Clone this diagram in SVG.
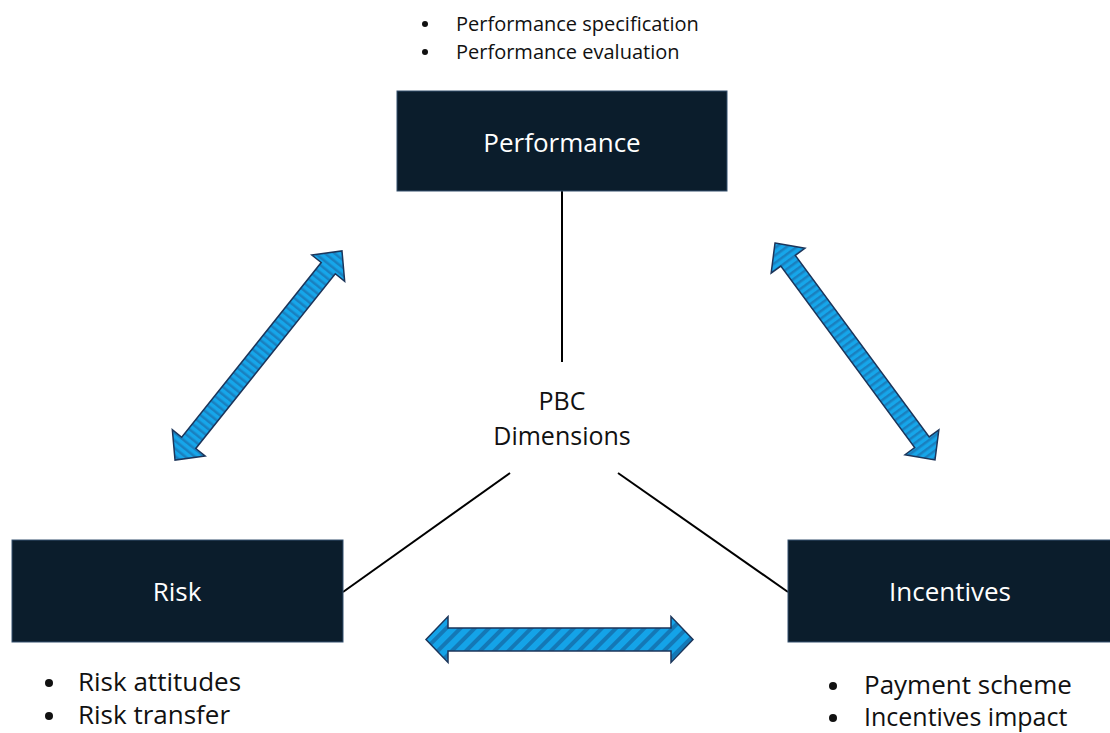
<svg xmlns="http://www.w3.org/2000/svg" width="1110" height="733" viewBox="0 0 1110 733">
  <style>
    .box { fill: #0b1d2c; stroke: #34506e; stroke-width: 1; }
    .label { font-family: "Open Sans", "Liberation Sans", sans-serif; fill: #ffffff; font-size: 26px; text-anchor: middle; }
    .txt { font-family: "Open Sans", "Liberation Sans", sans-serif; fill: #111111; }
    .dot { fill: #111111; }
    .link { stroke: #000000; stroke-width: 2; fill: none; }
    .arrow { stroke: #1c355a; stroke-width: 1.5; stroke-linejoin: miter; }
  </style>
  <defs>
    <pattern id="stripeH" patternUnits="userSpaceOnUse" width="10" height="10" patternTransform="rotate(45)">
      <rect width="10" height="10" fill="#14a3e8"/>
      <rect width="4" height="10" fill="#1478b6"/>
    </pattern>
    <pattern id="stripeD" patternUnits="userSpaceOnUse" width="6" height="6">
      <rect width="6" height="6" fill="#16a6ea"/>
      <rect width="2.5" height="6" fill="#1a80bf"/>
    </pattern>
  </defs>

  <!-- connectors -->
  <g id="connectors">
    <line class="link" x1="562" y1="191" x2="562" y2="362"/>
    <line class="link" x1="510" y1="473" x2="343" y2="592"/>
    <line class="link" x1="618" y1="473" x2="788" y2="592"/>
    <!-- striped double arrows -->
    <path class="arrow" fill="url(#stripeH)" transform="translate(559.5,639.5)"
          d="M-133.5,0 L-111.5,-23 L-111.5,-11.5 L111.5,-11.5 L111.5,-23 L133.5,0 L111.5,23 L111.5,11.5 L-111.5,11.5 L-111.5,23 Z"/>
    <path class="arrow" fill="url(#stripeD)" transform="translate(258.5,355.5) rotate(-51.4)"
          d="M-133.8,0 L-111.8,-21 L-111.8,-9 L111.8,-9 L111.8,-21 L133.8,0 L111.8,21 L111.8,9 L-111.8,9 L-111.8,21 Z"/>
    <path class="arrow" fill="url(#stripeD)" transform="translate(855,351.5) rotate(53.6)"
          d="M-134.8,0 L-112.8,-21 L-112.8,-9 L112.8,-9 L112.8,-21 L134.8,0 L112.8,21 L112.8,9 L-112.8,9 L-112.8,21 Z"/>
  </g>

  <g id="node-performance">
    <rect class="box" x="397" y="91" width="330" height="100"/>
    <text class="label" x="562" y="152">Performance</text>
    <circle class="dot" cx="425" cy="24" r="3"/>
    <text class="txt" font-size="20" x="456" y="31">Performance specification</text>
    <circle class="dot" cx="425" cy="52" r="3"/>
    <text class="txt" font-size="20" x="456" y="59">Performance evaluation</text>
  </g>

  <g id="node-pbc">
    <text class="txt" font-size="25" text-anchor="middle" x="562" y="410">PBC</text>
    <text class="txt" font-size="25" text-anchor="middle" x="562" y="445">Dimensions</text>
  </g>

  <g id="node-risk">
    <rect class="box" x="12" y="540" width="331" height="102"/>
    <text class="label" x="177" y="601">Risk</text>
    <circle class="dot" cx="49" cy="683" r="4"/>
    <text class="txt" font-size="26" x="78" y="691">Risk attitudes</text>
    <circle class="dot" cx="49" cy="716" r="4"/>
    <text class="txt" font-size="26" x="78" y="724">Risk transfer</text>
  </g>

  <g id="node-incentives">
    <rect class="box" x="788" y="540" width="330" height="102"/>
    <text class="label" x="950" y="601">Incentives</text>
    <circle class="dot" cx="833" cy="686" r="4"/>
    <text class="txt" font-size="26" x="864" y="694">Payment scheme</text>
    <circle class="dot" cx="833" cy="718" r="4"/>
    <text class="txt" font-size="25" x="864" y="726">Incentives impact</text>
  </g>
</svg>
